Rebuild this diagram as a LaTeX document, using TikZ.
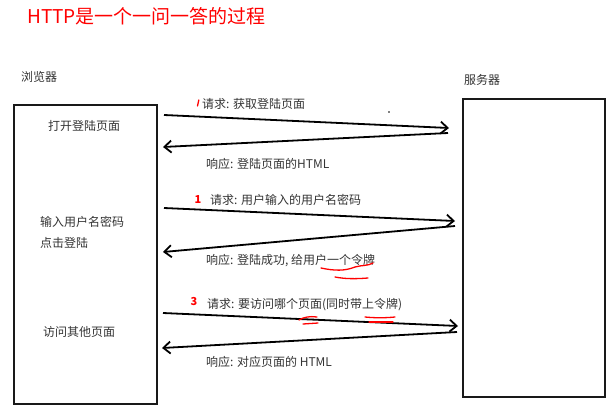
\documentclass[tikz,border=0pt]{standalone}
\usepackage{fontspec}
\setmainfont{Noto Sans CJK SC}
\usetikzlibrary{arrows.meta}
\begin{document}
\begin{tikzpicture}[x=1pt,y=-1pt,
  lbl/.style={anchor=west,inner sep=0pt,font=\fontsize{12}{14}\selectfont,text=black!80},
  box/.style={draw=black!90,line width=1.8pt,inner sep=0pt,anchor=north west},
  msg/.style={line width=1.8pt,draw=black,-{Straight Barb[length=7pt,width=12pt,line width=1.8pt]}},
  redstroke/.style={red,line width=1.3pt,line cap=round},
  redtxt/.style={text=red,inner sep=0pt,font=\bfseries\fontsize{11}{12}\selectfont}]
\useasboundingbox (0,0) rectangle (612,412);
% title
\node[anchor=west,inner sep=0pt,text=red,font=\fontsize{19}{22}\selectfont] (title) at (27,16) {HTTP是一个一问一答的过程};
% headers
\node[lbl] (bh) at (21,77) {浏览器};
\node[lbl] (sh) at (464,80) {服务器};
% boxes
\node[box,minimum width=143pt,minimum height=299pt] (browser) at (13,104) {};
\node[box,minimum width=142pt,minimum height=298pt] (server) at (462,98) {};
% box texts
\node[lbl] (t1) at (48,126) {打开登陆页面};
\node[lbl] (t2) at (40,222) {输入用户名密码};
\node[lbl] (t3) at (40,243) {点击登陆};
\node[lbl] (t4) at (43,332) {访问其他页面};
% connector end points
\coordinate (a1) at (164,115); \coordinate (a2) at (449,128);
\coordinate (a3) at (448,133); \coordinate (a4) at (163,147);
\coordinate (a5) at (164,208); \coordinate (a6) at (455,221);
\coordinate (a7) at (455,226); \coordinate (a8) at (163,252);
\coordinate (a9) at (163,313); \coordinate (a10) at (458,326);
\coordinate (a11) at (457,332); \coordinate (a12) at (162,348);
\draw[msg] (a1) -- (a2);
\draw[msg] (a3) -- (a4);
\draw[msg] (a5) -- (a6);
\draw[msg] (a7) -- (a8);
\draw[msg] (a9) -- (a10);
\draw[msg] (a11) -- (a12);
% message labels
\node[lbl] (m1) at (202,104) {请求: 获取登陆页面};
\node[lbl] (m2) at (206,164) {响应: 登陆页面的HTML};
\node[lbl] (m3) at (210,200) {请求: 用户输入的用户名密码};
\node[lbl] (m4) at (206,261) {响应: 登陆成功, 给用户一个令牌};
\node[lbl] (m5) at (207,305) {请求: 要访问哪个页面(同时带上令牌)};
\node[lbl] (m6) at (206,362) {响应: 对应页面的 HTML};
% red handwriting
\draw[redstroke] (197.5,106) -- (198.8,100);
\node[redtxt] (n1) at (198,200) {1};
\node[redtxt] (n3) at (194,302) {3};
\draw[redstroke] (321,268) .. controls (335,271) and (345,271) .. (355,267) .. controls (362,265) and (368,266) .. (373,263);
\draw[redstroke] (335,277) .. controls (345,279) and (356,279) .. (368,278);
\draw[redstroke] (299,320) .. controls (304,317) and (310,316) .. (317,317);
\draw[redstroke] (303,324) -- (318,323);
\draw[redstroke] (365,317) .. controls (375,318) and (385,318) .. (395,317);
\draw[redstroke] (369,322) -- (393,322);
\fill (389,112) circle (0.9pt);
\end{tikzpicture}
\end{document}
